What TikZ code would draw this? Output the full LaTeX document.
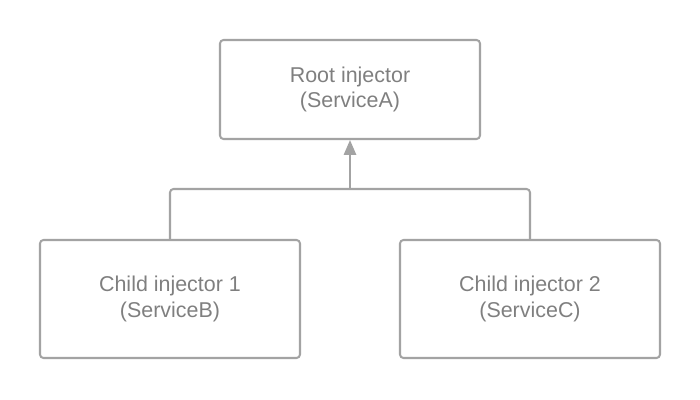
\documentclass[tikz,border=0pt]{standalone}
\usepackage{fontspec}
\setmainfont{Liberation Sans}
\usetikzlibrary{arrows.meta,positioning}
\definecolor{boxgray}{HTML}{A3A3A3}
\definecolor{textgray}{HTML}{7F7F7F}

\begin{document}
\begin{tikzpicture}[
    font=\fontsize{12.2}{14.4}\selectfont,
    injector/.style={draw=boxgray, line width=1.15pt, rounded corners=2pt,
      text=textgray, align=center, inner sep=0pt},
    link/.style={draw=boxgray, line width=1.15pt, rounded corners=2pt}]
        \useasboundingbox (0,0) rectangle (14,8);
        %nodes
        \node[injector, minimum width=5.2cm, minimum height=1.98cm] (root) at (7, 6.21) {Root injector\\(ServiceA)};
        \node[injector, minimum width=5.2cm, minimum height=2.36cm] (c1) at (3.4, 2.02) {Child injector 1\\(ServiceB)};
        \node[injector, minimum width=5.2cm, minimum height=2.36cm] (c2) at (10.6, 2.02) {Child injector 2\\(ServiceC)};
        \coordinate (join) at (7, 4.22);
        %edges
        \path [link] (c1.north) |- (join) -| (c2.north);
        \path [link, -{Triangle[length=8.5pt, width=7pt]}] (join) -- (root.south);
      \end{tikzpicture}
\end{document}
